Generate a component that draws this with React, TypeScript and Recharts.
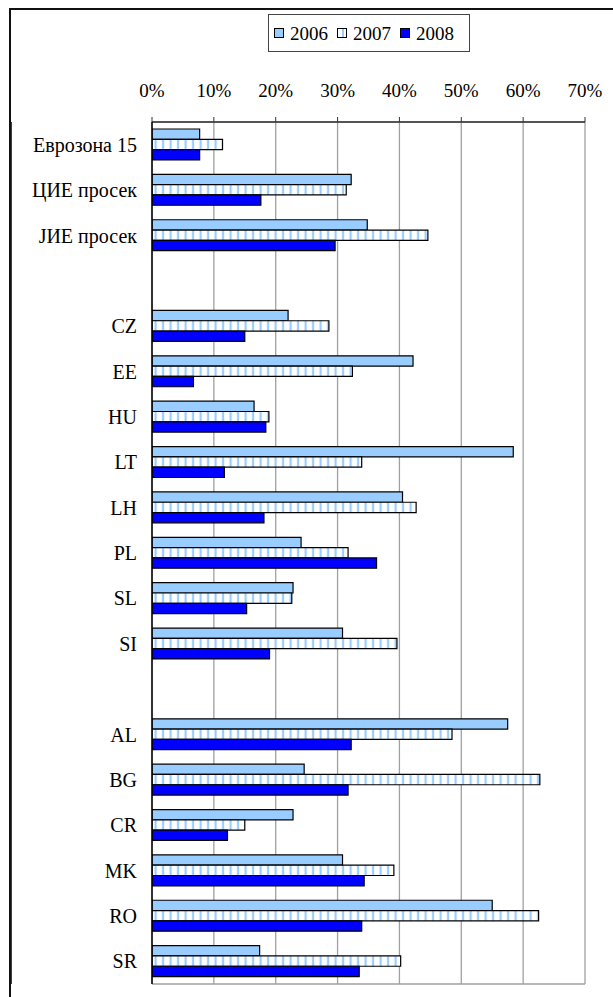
import React from 'react';
import { BarChart, Bar, XAxis, YAxis, CartesianGrid, Legend } from 'recharts';

const categories = ['Еврозона 15', 'ЦИЕ просек', 'ЈИЕ просек', ' ', 'CZ', 'EE', 'HU', 'LT', 'LH', 'PL', 'SL', 'SI', '  ', 'AL', 'BG', 'CR', 'MK', 'RO', 'SR'];
const s2006 = [7.7, 32.2, 34.8, null, 22.0, 42.2, 16.5, 58.4, 40.5, 24.1, 22.8, 30.8, null, 57.5, 24.6, 22.8, 30.8, 55.0, 17.4];
const s2007 = [11.4, 31.4, 44.6, null, 28.6, 32.4, 18.9, 33.9, 42.7, 31.7, 22.6, 39.6, null, 48.5, 62.7, 15.0, 39.1, 62.5, 40.2];
const s2008 = [7.7, 17.6, 29.6, null, 15.0, 6.7, 18.4, 11.7, 18.1, 36.3, 15.3, 19.0, null, 32.2, 31.7, 12.2, 34.3, 33.9, 33.5];
const xTicks = [0, 10, 20, 30, 40, 50, 60, 70];
const seriesNames = ['2006', '2007', '2008'];

const data = categories.map((c, i) => ({ name: c, y2006: s2006[i], y2007: s2007[i], y2008: s2008[i] }));
const boundaryTicks = categories.map((_, i) => i).concat([categories.length]);

const FONT = '"Liberation Serif", "Times New Roman", serif';

const iconStyles: React.CSSProperties[] = [
  { background: '#99ccff' },
  { background: 'linear-gradient(to right, #ffffff 0, #ffffff 55%, #99ccff 55%, #99ccff 80%, #ffffff 80%)' },
  { background: '#0000ff' },
];

const LegendContent = () => (
  <div
    style={{
      boxSizing: 'border-box',
      width: 202,
      height: 38,
      border: '1px solid #444',
      background: '#fff',
      display: 'flex',
      alignItems: 'center',
      paddingLeft: 5,
      fontFamily: FONT,
      fontSize: 19,
      color: '#000',
    }}
  >
    {seriesNames.map((n, i) => (
      <div key={n} style={{ display: 'flex', alignItems: 'center', marginRight: 9 }}>
        <div style={{ boxSizing: 'border-box', width: 10, height: 10, border: '1px solid #000', ...iconStyles[i] }} />
        <span style={{ marginLeft: 6, lineHeight: '19px' }}>{n}</span>
      </div>
    ))}
  </div>
);

export default function App() {
  return (
    <div style={{ position: 'absolute', left: 0, top: 0, width: 613, height: 997, overflow: 'hidden', background: '#fff' }}>
      <div style={{ position: 'absolute', left: 0, top: 0 }}>
        <BarChart
          width={613}
          height={997}
          data={data}
          layout="vertical"
          margin={{ top: 80, right: 28, bottom: 13, left: 10 }}
          barGap={0}
          barSize={10.3}
          style={{ fontFamily: FONT }}
        >
          <defs>
            <pattern id="stripes2007" patternUnits="userSpaceOnUse" width={7.5} height={10}>
              <rect x={0} y={0} width={7.5} height={10} fill="#ffffff" />
              <rect x={4.5} y={0} width={2.2} height={10} fill="#99ccff" />
            </pattern>
          </defs>
          <CartesianGrid
            xAxisId={0}
            yAxisId="grid"
            stroke="#a0a0a0"
            strokeWidth={1.3}
            horizontal
            vertical
          />
          <XAxis
            type="number"
            orientation="top"
            domain={[0, 70]}
            ticks={xTicks}
            interval={0}
            tickFormatter={(v: number) => `${v}%`}
            height={42}
            tickSize={5}
            tickMargin={20}
            axisLine={{ stroke: '#333', strokeWidth: 1.5 }}
            tickLine={{ stroke: '#333' }}
            tick={{ fill: '#000', fontSize: 19, fontFamily: FONT }}
            allowDataOverflow
          />
          <YAxis
            yAxisId="cat"
            type="category"
            dataKey="name"
            width={141}
            interval={0}
            tickLine={false}
            axisLine={{ stroke: '#000', strokeWidth: 1.5 }}
            tickSize={6}
            tickMargin={9}
            tick={{ fill: '#000', fontSize: 20, fontFamily: FONT }}
          />
          <YAxis
            yAxisId="grid"
            type="number"
            domain={[0, categories.length]}
            ticks={boundaryTicks}
            interval={0}
            reversed
            width={1}
            tick={false}
            tickSize={6}
            axisLine={{ stroke: '#000', strokeWidth: 1.5 }}
            tickLine={{ stroke: '#333' }}
            allowDataOverflow
          />
          <Legend
            layout="vertical"
            align="center"
            verticalAlign="middle"
            wrapperStyle={{ position: 'absolute', top: 14, left: 268, width: 202 }}
            content={<LegendContent />}
          />
          <Bar yAxisId="cat" dataKey="y2006" name="2006" fill="#99ccff" stroke="#000" strokeWidth={1.2} isAnimationActive={false} />
          <Bar yAxisId="cat" dataKey="y2007" name="2007" fill="url(#stripes2007)" stroke="#000" strokeWidth={1.2} isAnimationActive={false} />
          <Bar yAxisId="cat" dataKey="y2008" name="2008" fill="#0000ff" stroke="#000" strokeWidth={1.2} isAnimationActive={false} />
        </BarChart>
      </div>
      <div
        style={{
          position: 'absolute',
          left: 9,
          top: 8,
          width: 800,
          height: 1200,
          border: '2px solid #111',
          boxSizing: 'border-box',
          pointerEvents: 'none',
          zIndex: 5,
        }}
      />
    </div>
  );
}
